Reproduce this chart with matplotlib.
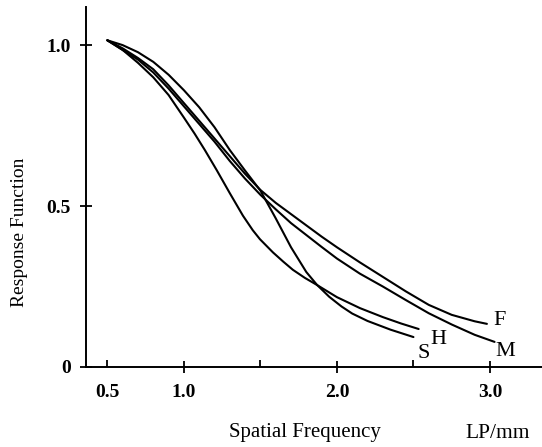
import matplotlib
matplotlib.use("Agg")
import matplotlib.pyplot as plt
from matplotlib.ticker import FixedLocator, FixedFormatter

plt.rcParams['font.family'] = ['Liberation Serif', 'DejaVu Serif']

# Curve data (spatial frequency LP/mm, response)
f_x = [0.5, 0.6, 0.7, 0.8, 0.9, 1.0, 1.1, 1.2, 1.3, 1.4, 1.5, 1.6, 1.7, 1.8, 1.9, 2.0,
       2.15, 2.3, 2.45, 2.6, 2.75, 2.9, 2.98]
f_y = [1.015, 0.99, 0.96, 0.925, 0.875, 0.82, 0.765, 0.71, 0.655, 0.6, 0.55, 0.51, 0.475,
       0.44, 0.405, 0.372, 0.325, 0.28, 0.235, 0.193, 0.162, 0.142, 0.134]

m_x = [0.5, 0.6, 0.7, 0.8, 0.9, 1.0, 1.1, 1.2, 1.3, 1.4, 1.5, 1.6, 1.7, 1.8, 1.9, 2.0,
       2.15, 2.3, 2.45, 2.6, 2.75, 2.9, 3.03]
m_y = [1.015, 0.985, 0.955, 0.915, 0.865, 0.81, 0.755, 0.70, 0.64, 0.585, 0.535, 0.49,
       0.447, 0.41, 0.373, 0.337, 0.29, 0.25, 0.208, 0.167, 0.132, 0.10, 0.078]

h_x = [0.5, 0.6, 0.7, 0.8, 0.9, 1.0, 1.07, 1.137, 1.214, 1.30, 1.386, 1.45, 1.497, 1.582,
       1.65, 1.712, 1.79, 1.869, 2.0, 2.15, 2.3, 2.42, 2.534]
h_y = [1.015, 0.985, 0.945, 0.9, 0.845, 0.775, 0.725, 0.674, 0.612, 0.54, 0.47, 0.425,
       0.397, 0.356, 0.327, 0.302, 0.277, 0.255, 0.217, 0.183, 0.155, 0.135, 0.118]

s_x = [0.5, 0.6, 0.7, 0.8, 0.9, 1.0, 1.1, 1.2, 1.3, 1.4, 1.5, 1.6, 1.7, 1.8, 1.87,
       1.95, 2.03, 2.1, 2.2, 2.35, 2.5]
s_y = [1.015, 1.0, 0.978, 0.948, 0.908, 0.86, 0.807, 0.745, 0.674, 0.61, 0.548, 0.462,
       0.372, 0.295, 0.255, 0.218, 0.188, 0.166, 0.143, 0.116, 0.093]

curve_labels = ['F', 'M', 'H', 'S']
label_x = [3.06, 3.10, 2.665, 2.566]
label_y = [0.143, 0.047, 0.084, 0.042]

x_major = [1.0, 2.0, 3.0]
x_major_labels = ['1.0', '2.0', '3.0']
x_minor = [0.5, 1.5, 2.5]
x_minor_labels = ['0.5', '', '']
y_ticks = [0, 0.5, 1.0]
y_tick_labels = ['0', '0.5', '1.0']

fig = plt.figure(figsize=(5.42, 4.47), dpi=100)
ax = fig.add_axes([0.158, 0.179, 0.842, 0.805])

lw = 1.5
for xs, ys in [(f_x, f_y), (m_x, m_y), (h_x, h_y), (s_x, s_y)]:
    ax.plot(xs, ys, color='black', lw=lw, solid_capstyle='round', solid_joinstyle='round')

for t, lx, ly in zip(curve_labels, label_x, label_y):
    ax.text(lx, ly, t, fontsize=16, ha='center', va='center', color='black')

ax.set_xlim(0.358, 3.34)
ax.set_ylim(0, 1.118)

for side in ['top', 'right']:
    ax.spines[side].set_visible(False)
for side in ['left', 'bottom']:
    ax.spines[side].set_linewidth(1.4)

ax.xaxis.set_major_locator(FixedLocator(x_major))
ax.xaxis.set_major_formatter(FixedFormatter(x_major_labels))
ax.xaxis.set_minor_locator(FixedLocator(x_minor))
ax.xaxis.set_minor_formatter(FixedFormatter(x_minor_labels))
ax.yaxis.set_major_locator(FixedLocator(y_ticks))
ax.yaxis.set_major_formatter(FixedFormatter(y_tick_labels))

ax.tick_params(axis='x', which='major', direction='inout', length=8, width=1.3,
               labelsize=14, pad=8)
ax.tick_params(axis='x', which='minor', direction='in', length=5, width=1.3,
               labelsize=14, pad=12)
ax.tick_params(axis='y', which='major', direction='inout', length=9, width=1.3,
               labelsize=14, pad=6)
for lab in ax.get_xticklabels(which='both') + ax.get_yticklabels():
    lab.set_fontweight('bold')

fig.text(20 / 542, 1 - 232 / 447, 'Response Function', fontsize=14, rotation=90,
         ha='center', va='center')
fig.text(305 / 542, 1 - 433 / 447, 'Spatial Frequency', fontsize=15, ha='center', va='center')
fig.text(498 / 542, 1 - 433 / 447, 'LP/mm', fontsize=15.5, ha='center', va='center')

fig.savefig('out.png', dpi=100)
